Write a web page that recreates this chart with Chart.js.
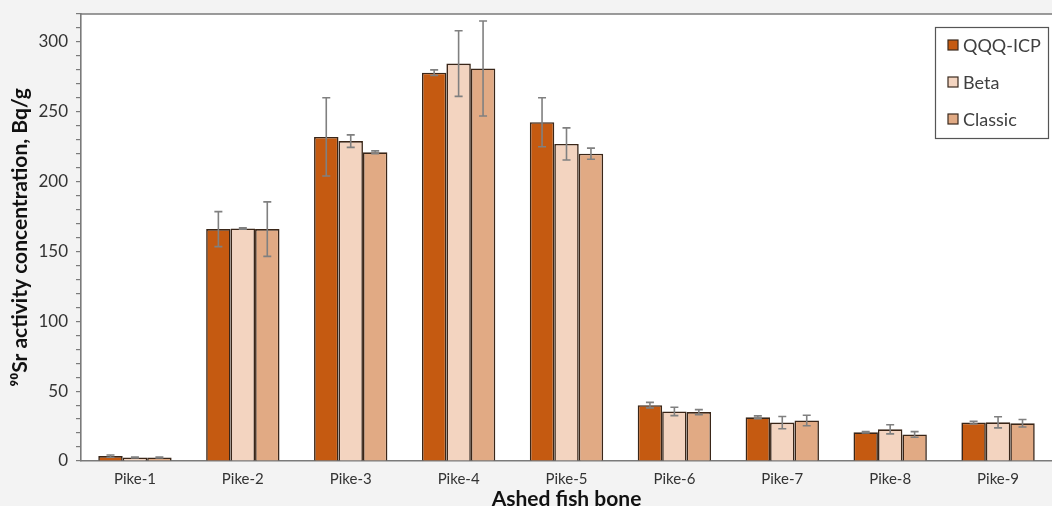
<!DOCTYPE html>
<html>
<head>
<meta charset="utf-8">
<script src="https://cdn.jsdelivr.net/npm/chart.js@4.4.1/dist/chart.umd.min.js"></script>
<style>
  html, body { margin: 0; padding: 0; background: #f3f3f3; }
  #wrap { width: 1052px; height: 506px; }
</style>
</head>
<body>
<div id="wrap"><canvas id="c" width="1052" height="506"></canvas></div>
<script>
// Samples
const categories = ['Pike-1','Pike-2','Pike-3','Pike-4','Pike-5','Pike-6','Pike-7','Pike-8','Pike-9'];

// 90Sr activity concentration (Bq/g) per method
const qqqIcp  = [3.5, 166, 232, 278, 242.5, 40, 31.3, 20.5, 27.5];
const beta    = [2.5, 166.5, 229, 284.5, 227, 35.5, 27.5, 22.7, 27.7];
const classic = [2.5, 166, 221, 281, 220, 35, 29, 19, 27];

// Uncertainties (±)
const qqqIcpErr  = [0.8, 12.5, 28, 2, 17.5, 2, 1, 0.5, 1];
const betaErr    = [0.3, 0.5, 4.5, 23.5, 11.5, 3, 4.4, 3.3, 4];
const classicErr = [0.3, 19.5, 1, 34, 4, 1.8, 3.8, 2, 2.7];

// Y axis ticks
const yMax = 320;
const yStep = 10;
const yLabelEvery = 50;

const FONT = 'Lato, "Open Sans", sans-serif';

const plotBackground = {
  id: 'plotBackground',
  beforeDraw(chart) {
    const { ctx, chartArea: a } = chart;
    ctx.save();
    ctx.fillStyle = '#ffffff';
    ctx.fillRect(a.left, a.top, a.right - a.left, a.bottom - a.top);
    ctx.strokeStyle = '#7a7a7a';
    ctx.lineWidth = 1.5;
    ctx.beginPath();
    ctx.moveTo(a.left, a.top);
    ctx.lineTo(a.right, a.top);
    ctx.stroke();
    ctx.restore();
  }
};

const errorBars = {
  id: 'errorBars',
  afterDatasetsDraw(chart) {
    const { ctx } = chart;
    const y = chart.scales.y;
    ctx.save();
    ctx.strokeStyle = '#808080';
    ctx.lineWidth = 1.6;
    chart.data.datasets.forEach((ds, i) => {
      const meta = chart.getDatasetMeta(i);
      meta.data.forEach((bar, j) => {
        const v = ds.data[j], e = ds.errors[j];
        const yt = y.getPixelForValue(v + e);
        const yb = y.getPixelForValue(v - e);
        const x = bar.x, cap = 4;
        ctx.beginPath();
        ctx.moveTo(x, yt); ctx.lineTo(x, yb);
        ctx.moveTo(x - cap, yt); ctx.lineTo(x + cap, yt);
        ctx.moveTo(x - cap, yb); ctx.lineTo(x + cap, yb);
        ctx.stroke();
      });
    });
    ctx.restore();
  }
};

const boxLegend = {
  id: 'boxLegend',
  afterDraw(chart) {
    const { ctx } = chart;
    const x0 = 935, y0 = 27, w = 113, h = 111;
    ctx.save();
    ctx.fillStyle = '#ffffff';
    ctx.fillRect(x0, y0, w, h);
    ctx.strokeStyle = '#555555';
    ctx.lineWidth = 1.2;
    ctx.strokeRect(x0 + 0.5, y0 + 0.5, w, h);
    ctx.font = '18px ' + FONT;
    ctx.textBaseline = 'middle';
    const rows = [45, 82, 119];
    chart.data.datasets.forEach((ds, i) => {
      const cy = rows[i];
      ctx.fillStyle = ds.backgroundColor;
      ctx.fillRect(948, cy - 5, 10, 10);
      ctx.strokeStyle = '#3b2a1e';
      ctx.lineWidth = 1.2;
      ctx.strokeRect(948, cy - 5, 10, 10);
      ctx.fillStyle = '#404040';
      ctx.fillText(ds.label, 963, cy + 1);
    });
    ctx.restore();
  }
};

const mkSet = (label, data, errors, color) => ({
  label, data, errors,
  backgroundColor: color,
  borderColor: '#3a2618',
  borderWidth: 1.6,
  borderSkipped: 'bottom',
  categoryPercentage: 0.68,
  barPercentage: 1.0
});

new Chart(document.getElementById('c'), {
  type: 'bar',
  data: {
    labels: categories,
    datasets: [
      mkSet('QQQ-ICP', qqqIcp, qqqIcpErr, '#c55a11'),
      mkSet('Beta', beta, betaErr, '#f3d4c0'),
      mkSet('Classic', classic, classicErr, '#e1aa84')
    ]
  },
  options: {
    responsive: false,
    animation: false,
    layout: { padding: { top: 14, right: 0, left: 0, bottom: 0 } },
    plugins: { legend: { display: false }, tooltip: { enabled: false } },
    scales: {
      x: {
        grid: { display: false, drawTicks: false },
        border: { color: '#7a7a7a', width: 1.6 },
        ticks: { color: '#333333', font: { family: FONT, size: 15 }, padding: 9 },
        title: {
          display: true, text: 'Ashed fish bone', color: '#111111',
          font: { family: FONT, size: 21, weight: 'bold' }, padding: { top: 0, bottom: -6 }
        },
        afterFit(s) { s.height = 45; s.paddingLeft = 0; s.paddingRight = 0; }
      },
      y: {
        min: 0, max: yMax,
        grid: { drawOnChartArea: false, tickLength: 5, color: '#7a7a7a', lineWidth: 1.2 },
        border: { color: '#7a7a7a', width: 1.6 },
        ticks: {
          stepSize: yStep, autoSkip: false,
          color: '#333333', font: { family: FONT, size: 17 }, padding: 8,
          callback: v => (v % yLabelEvery === 0 ? String(v) : '')
        },
        title: {
          display: true, text: '⁹⁰Sr activity concentration, Bq/g', color: '#111111',
          font: { family: FONT, size: 21, weight: 'bold' }, padding: { top: 8, bottom: 0 }
        },
        afterFit(s) { s.width = 81; s.paddingTop = 0; s.paddingBottom = 0; }
      }
    }
  },
  plugins: [plotBackground, errorBars, boxLegend]
});
</script>
</body>
</html>
